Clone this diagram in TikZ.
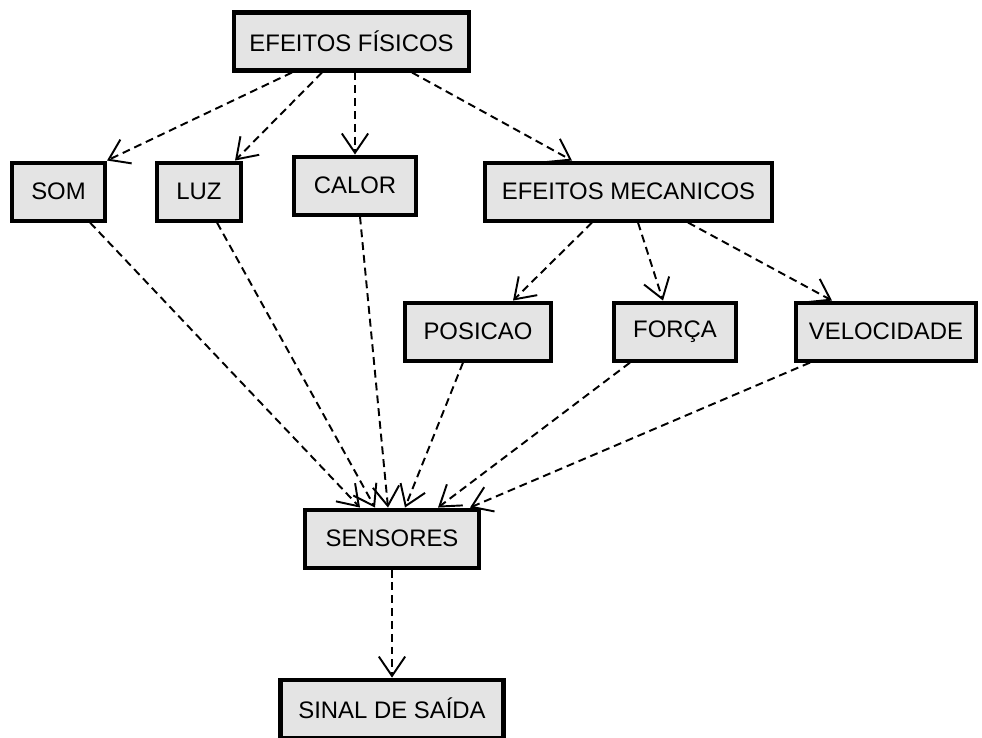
\documentclass[tikz,border=0pt]{standalone}
\usepackage{fontspec}
\setmainfont{Liberation Sans}
\usetikzlibrary{positioning,arrows.meta}

\definecolor{boxgray}{RGB}{228,228,228}

\begin{document}
\begin{tikzpicture}[
        caixa/.style={draw, fill=boxgray, line width=2.3pt, minimum height=1.16cm,
            inner sep=2pt, font=\fontsize{13.6}{16}\selectfont},
        seta/.style={dash pattern=on 4.5pt off 2.8pt, line width=1.1pt,
            -{Straight Barb[length=11pt,width=15pt,line width=1.1pt]}}
    ]
            \useasboundingbox (0,0) rectangle (19.64,-14.76);

            \node (fis) [caixa, minimum width=4.70cm] at (7.03,-0.83) {EFEITOS FÍSICOS};
            \node (som) [caixa, minimum width=1.86cm, below=1.76cm of fis, xshift=-5.86cm] {SOM};
            \node (luz) [caixa, minimum width=1.68cm, below=1.76cm of fis, xshift=-3.05cm] {LUZ};
            \node (calor) [caixa, minimum width=2.44cm, below=1.64cm of fis, xshift=0.07cm] {CALOR};
            \node (mec) [caixa, minimum width=5.74cm, below=1.76cm of fis, xshift=5.54cm] {EFEITOS MECANICOS};
            \node (pos) [caixa, minimum width=2.92cm, below=1.56cm of mec, xshift=-3.01cm] {POSICAO};
            \node (forca) [caixa, minimum width=2.44cm, below=1.56cm of mec, xshift=0.93cm] {FORÇA};
            \node (vel) [caixa, minimum width=3.60cm, below=1.56cm of mec, xshift=5.15cm] {VELOCIDADE};
            \node (sens) [caixa, minimum width=3.48cm, below=5.82cm of calor, xshift=0.74cm] {SENSORES};
            \node (sinal) [caixa, minimum width=4.46cm, below=2.16cm of sens] {SINAL DE SAÍDA};

            \draw [seta] ([xshift=-1.19cm]fis.south) -- (som.north east);
            \draw [seta] ([xshift=-0.59cm]fis.south) -- ([xshift=-0.16cm]luz.north east);
            \draw [seta] (calor.north |- fis.south) -- (calor.north);
            \draw [seta] ([xshift=1.21cm]fis.south) -- ([xshift=-1.13cm]mec.north);

            \draw [seta] ([xshift=-0.73cm]mec.south) -- ([xshift=0.70cm]pos.north);
            \draw [seta] ([xshift=0.19cm]mec.south) -- ([xshift=-0.24cm]forca.north);
            \draw [seta] ([xshift=1.19cm]mec.south) -- ([xshift=-1.08cm]vel.north);

            \draw [seta] ([xshift=0.63cm]som.south) -- ([xshift=-0.64cm]sens.north);
            \draw [seta] ([xshift=0.36cm]luz.south) -- ([xshift=-0.34cm]sens.north);
            \draw [seta] ([xshift=0.10cm]calor.south) -- ([xshift=-0.08cm]sens.north);
            \draw [seta] ([xshift=-0.30cm]pos.south) -- ([xshift=0.26cm]sens.north);
            \draw [seta] ([xshift=-0.90cm]forca.south) -- ([xshift=0.92cm]sens.north);
            \draw [seta] ([xshift=-1.52cm]vel.south) -- ([xshift=1.56cm]sens.north);

            \draw [seta] (sens.south) -- (sinal.north);
        \end{tikzpicture}
\end{document}
